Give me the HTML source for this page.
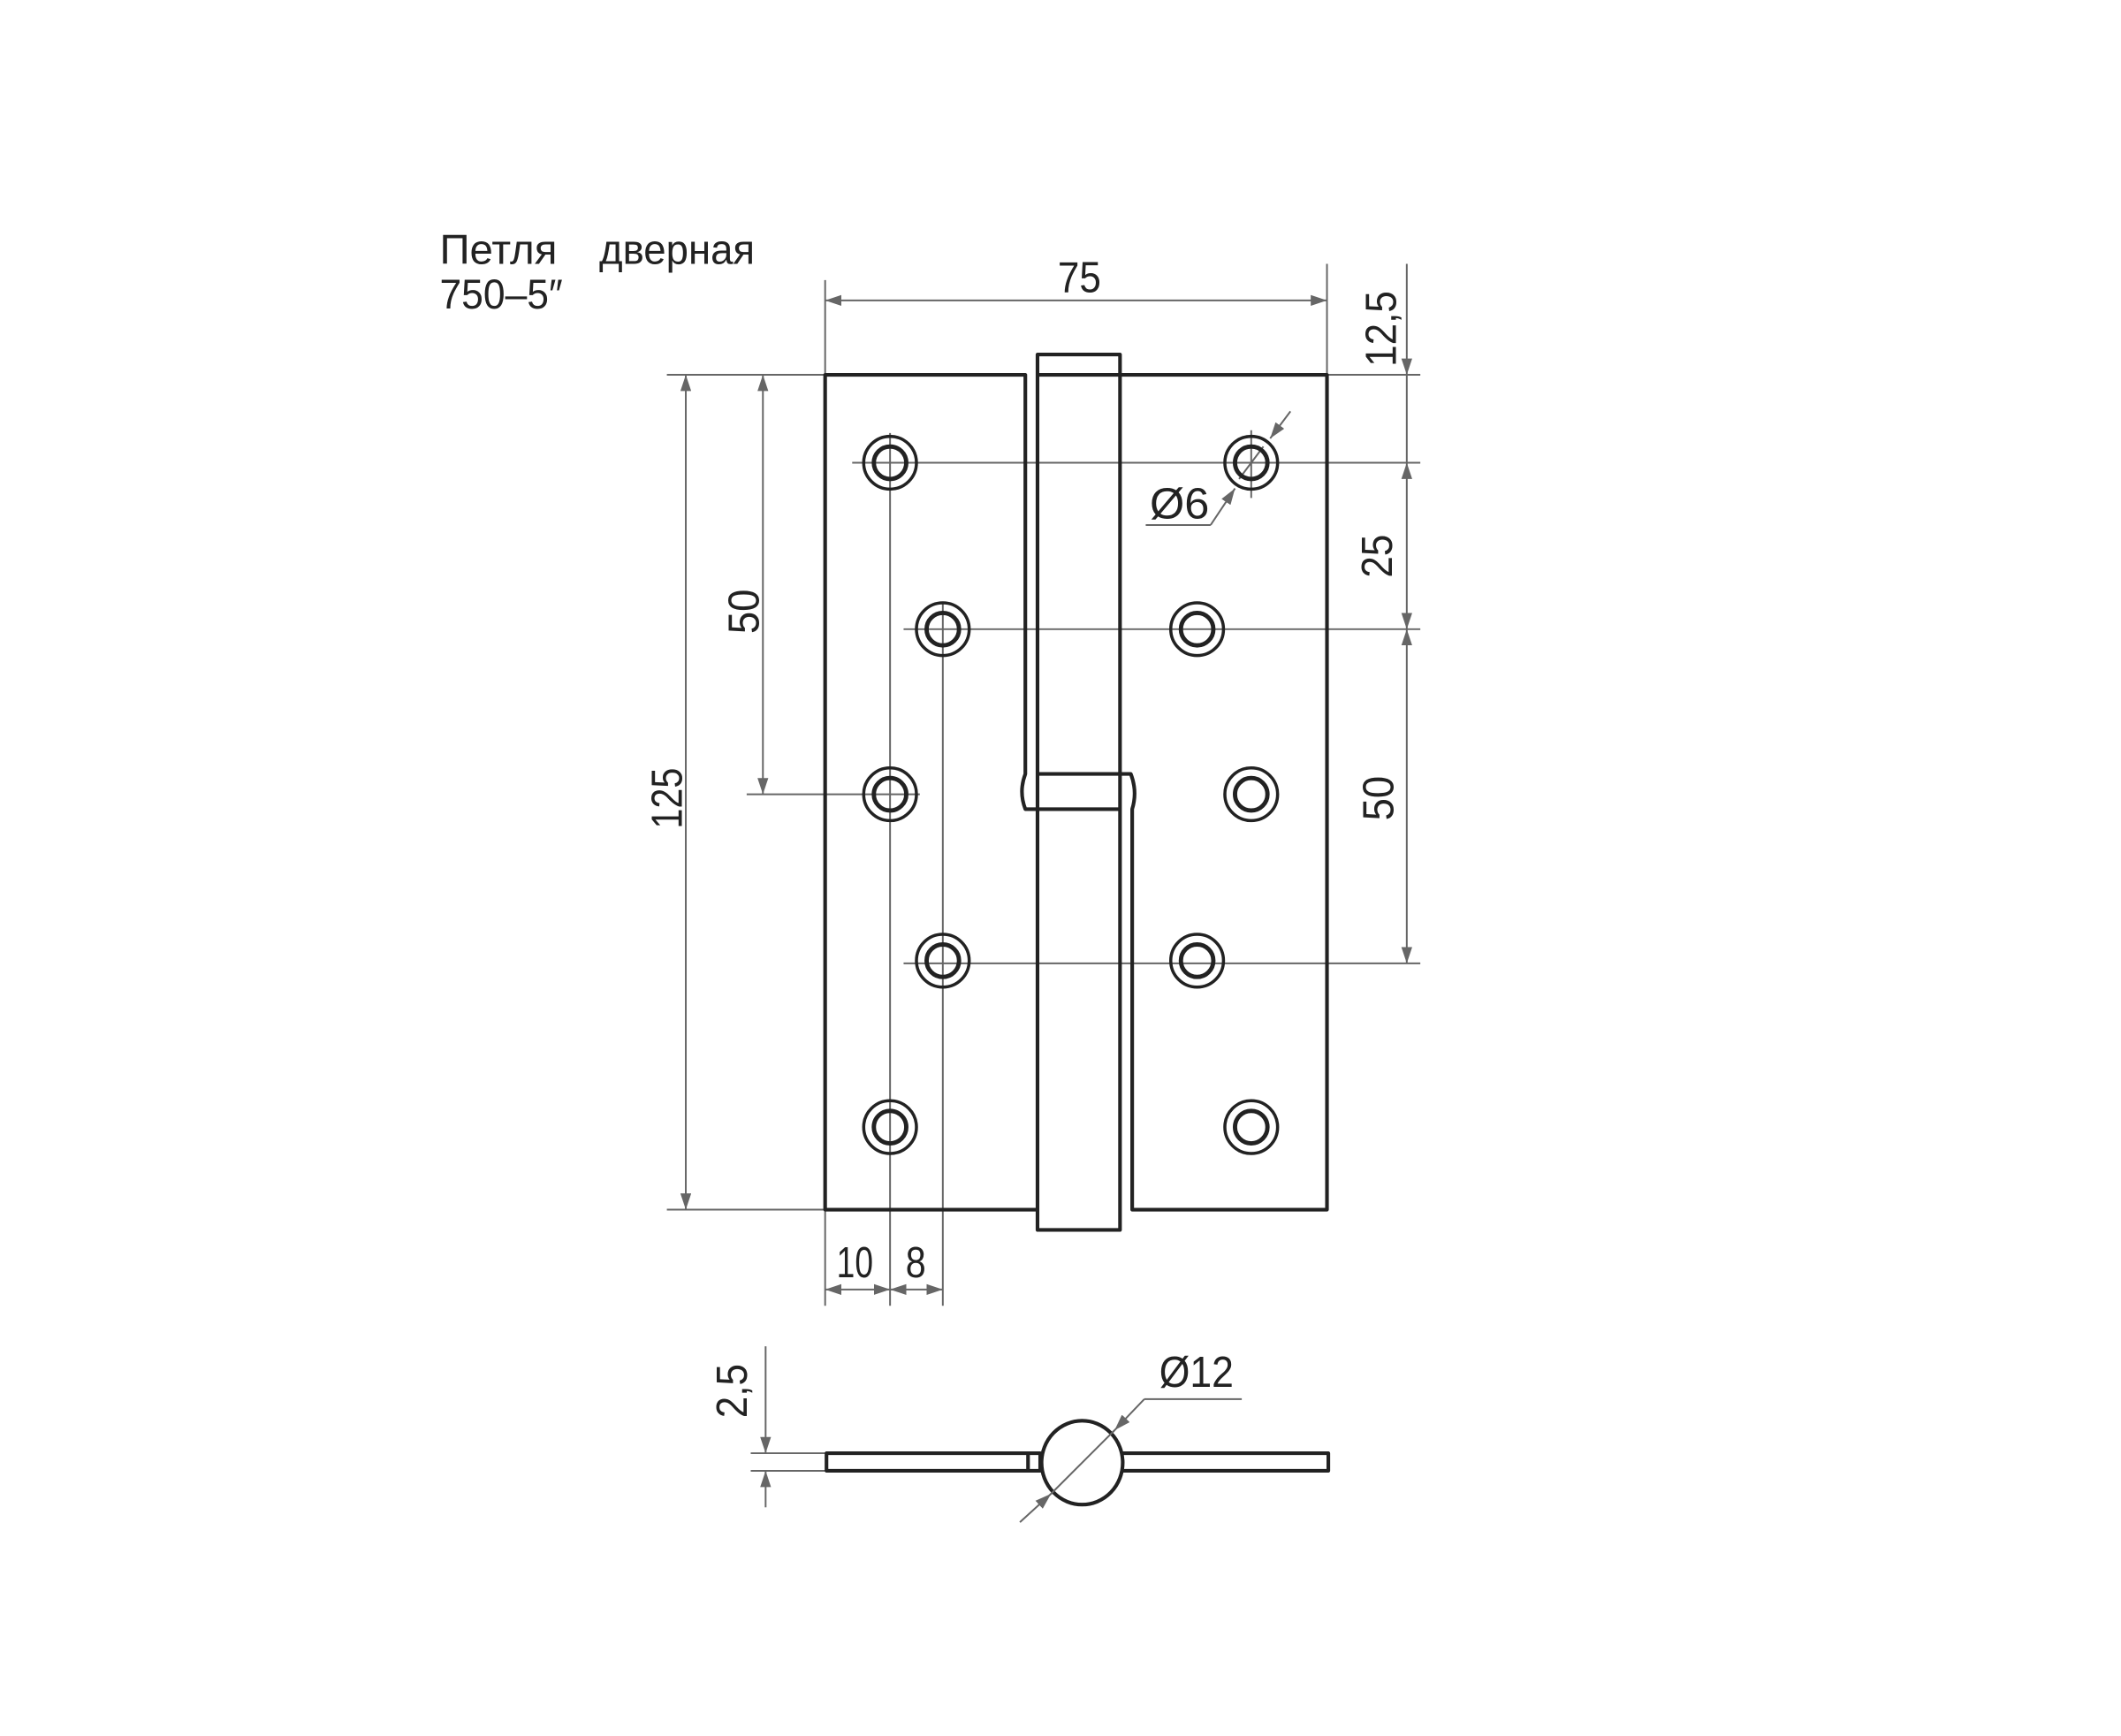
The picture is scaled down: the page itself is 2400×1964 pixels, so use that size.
<!DOCTYPE html>
<html><head><meta charset="utf-8"><style>
html,body{margin:0;padding:0;background:#fff;}
svg{display:block;}
text{font-family:"Liberation Sans","DejaVu Sans",sans-serif;fill:#222;}
</style></head><body>
<svg width="2400" height="1964" viewBox="0 0 1568 1283" preserveAspectRatio="none" xmlns="http://www.w3.org/2000/svg">
<defs>
<marker id="a" viewBox="0 0 12 8" refX="12" refY="4" markerWidth="12" markerHeight="8" markerUnits="userSpaceOnUse" orient="auto-start-reverse"><path d="M0,0 L12,4 L0,8 Z" fill="#666"/></marker>
</defs>
<rect width="1568" height="1283" fill="#fff"/>

<!-- title -->
<text x="325" y="195" font-size="31" fill="#333">Петля</text>
<text x="443" y="195" font-size="31" textLength="115" lengthAdjust="spacingAndGlyphs" fill="#333">дверная</text>
<text x="325" y="228" font-size="31" textLength="91" lengthAdjust="spacingAndGlyphs" fill="#333">750–5″</text>

<g stroke="#666" stroke-width="1.3" fill="none">
<line x1="610" y1="207" x2="610" y2="277"/>
<line x1="981" y1="195" x2="981" y2="277"/>
<line x1="1040" y1="195" x2="1040" y2="262"/>
<line x1="981" y1="277" x2="1050" y2="277"/>
<line x1="630" y1="342" x2="1050" y2="342"/>
<line x1="668" y1="465" x2="1050" y2="465"/>
<line x1="668" y1="712" x2="1050" y2="712"/>
<line x1="493" y1="277" x2="610" y2="277"/>
<line x1="493" y1="894" x2="610" y2="894"/>
<line x1="552" y1="587" x2="680" y2="587"/>
<line x1="658" y1="320" x2="658" y2="965"/>
<line x1="697" y1="445" x2="697" y2="965"/>
<line x1="610" y1="894" x2="610" y2="965"/>
<line x1="925" y1="318" x2="925" y2="368"/>
<line x1="610" y1="222" x2="981" y2="222" marker-start="url(#a)" marker-end="url(#a)"/>
<line x1="1040" y1="262" x2="1040" y2="277" marker-end="url(#a)"/>
<line x1="1040" y1="342" x2="1040" y2="465" marker-start="url(#a)" marker-end="url(#a)"/>
<line x1="1040" y1="277" x2="1040" y2="342"/>
<line x1="1040" y1="465" x2="1040" y2="712" marker-start="url(#a)" marker-end="url(#a)"/>
<line x1="507" y1="277" x2="507" y2="894" marker-start="url(#a)" marker-end="url(#a)"/>
<line x1="564" y1="277" x2="564" y2="587" marker-start="url(#a)" marker-end="url(#a)"/>
<line x1="610" y1="953" x2="658" y2="953" marker-start="url(#a)" marker-end="url(#a)"/>
<line x1="658" y1="953" x2="697" y2="953" marker-start="url(#a)" marker-end="url(#a)"/>
<line x1="954" y1="304" x2="939" y2="324" marker-end="url(#a)"/>
<line x1="895" y1="388" x2="913" y2="361" marker-end="url(#a)"/>
<line x1="895" y1="388" x2="847" y2="388"/>
<line x1="916" y1="354" x2="934" y2="330"/>
<line x1="566" y1="995" x2="566" y2="1074" marker-end="url(#a)"/>
<line x1="566" y1="1114" x2="566" y2="1087" marker-end="url(#a)"/>
<line x1="555" y1="1074" x2="611" y2="1074"/>
<line x1="555" y1="1087" x2="611" y2="1087"/>
<line x1="754" y1="1125" x2="777" y2="1104" marker-end="url(#a)"/>
<line x1="846" y1="1034" x2="824" y2="1057" marker-end="url(#a)"/>
<line x1="846" y1="1034" x2="918" y2="1034"/>
<line x1="777" y1="1104" x2="824" y2="1057"/>
</g>

<g stroke="#222" stroke-width="2.7" fill="none" stroke-linejoin="round">
<path d="M767,894 L610,894 L610,277 L758,277 L758,572 Q753,585 758,598 L828,598"/>
<path d="M767,572 L836,572 Q841,585 837,598 L837,894 L981,894 L981,277 L828,277"/>
<rect x="767" y="262" width="61" height="647"/>
<line x1="767" y1="277" x2="828" y2="277"/>
<g stroke-width="2.3">
<circle cx="658" cy="342" r="19.5"/><circle cx="658" cy="342" r="12"/>
<circle cx="697" cy="465" r="19.5"/><circle cx="697" cy="465" r="12"/>
<circle cx="658" cy="587" r="19.5"/><circle cx="658" cy="587" r="12"/>
<circle cx="697" cy="710" r="19.5"/><circle cx="697" cy="710" r="12"/>
<circle cx="658" cy="833" r="19.5"/><circle cx="658" cy="833" r="12"/>
<circle cx="925" cy="342" r="19.5"/><circle cx="925" cy="342" r="12"/>
<circle cx="885" cy="465" r="19.5"/><circle cx="885" cy="465" r="12"/>
<circle cx="925" cy="587" r="19.5"/><circle cx="925" cy="587" r="12"/>
<circle cx="885" cy="710" r="19.5"/><circle cx="885" cy="710" r="12"/>
<circle cx="925" cy="833" r="19.5"/><circle cx="925" cy="833" r="12"/>
</g>
<g stroke-width="3.2">
<circle cx="658" cy="342" r="12"/><circle cx="697" cy="465" r="12"/><circle cx="658" cy="587" r="12"/><circle cx="697" cy="710" r="12"/><circle cx="658" cy="833" r="12"/>
<circle cx="925" cy="342" r="12"/><circle cx="885" cy="465" r="12"/><circle cx="925" cy="587" r="12"/><circle cx="885" cy="710" r="12"/><circle cx="925" cy="833" r="12"/>
</g>
<rect x="611" y="1074" width="158" height="13"/>
<line x1="760" y1="1074" x2="760" y2="1087"/>
<path d="M830,1074 L982,1074 L982,1087 L830,1087"/>
<ellipse cx="800" cy="1081" rx="30" ry="31" fill="#fff"/>
</g>
<line x1="777" y1="1104" x2="824" y2="1057" stroke="#666" stroke-width="1.3"/>

<g font-size="32">
<text x="798" y="216" text-anchor="middle" textLength="32" lengthAdjust="spacingAndGlyphs">75</text>
<text transform="translate(1032,243) rotate(-90)" text-anchor="middle" textLength="56" lengthAdjust="spacingAndGlyphs">12,5</text>
<text transform="translate(1029,411) rotate(-90)" text-anchor="middle" textLength="32" lengthAdjust="spacingAndGlyphs">25</text>
<text transform="translate(1030,590) rotate(-90)" text-anchor="middle" textLength="33" lengthAdjust="spacingAndGlyphs">50</text>
<text transform="translate(561,452) rotate(-90)" text-anchor="middle" textLength="33" lengthAdjust="spacingAndGlyphs">50</text>
<text transform="translate(504,590) rotate(-90)" text-anchor="middle" textLength="45" lengthAdjust="spacingAndGlyphs">125</text>
<text x="632" y="944" text-anchor="middle" textLength="27" lengthAdjust="spacingAndGlyphs">10</text>
<text x="677" y="944" text-anchor="middle" textLength="15" lengthAdjust="spacingAndGlyphs">8</text>
<text transform="translate(552,1028) rotate(-90)" text-anchor="middle" textLength="40" lengthAdjust="spacingAndGlyphs">2,5</text>
<text x="850" y="383" textLength="44" lengthAdjust="spacingAndGlyphs">Ø6</text>
<text x="857" y="1025" textLength="55" lengthAdjust="spacingAndGlyphs">Ø12</text>
</g>
</svg>
</body></html>
